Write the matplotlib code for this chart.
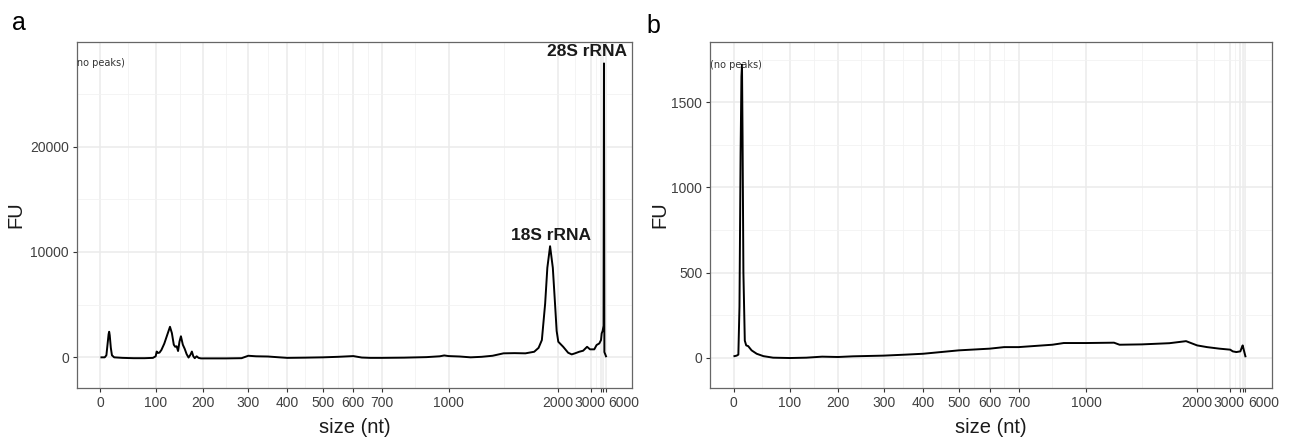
import numpy as np
import matplotlib
matplotlib.use("Agg")
import matplotlib.pyplot as plt
import matplotlib.transforms as mtransforms

plt.rcParams["font.family"] = ["Liberation Sans", "DejaVu Sans"]

# ---------------- data ----------------
tick_sizes = [0, 100, 200, 300, 400, 500, 600, 700, 1000, 2000, 3000, 4000, 5000, 6000]
tick_labels = ["0", "100", "200", "300", "400", "500", "600", "700", "1000", "2000", "3000", "", "", "6000"]
# ladder calibration: relative run position of each size marker
ladder_pos = [100.3, 155.7, 203.3, 248.3, 287.3, 322.7, 353.3, 381.7, 448.7, 558.3, 591.0, 601.0, 603.3, 606.0]

a_size = [2, 8, 11, 13, 15, 16, 17, 19, 21, 25, 40, 60, 80, 95, 100, 102, 105, 108, 112, 118, 124, 130,
          134, 138, 141, 144, 147, 150, 153, 157, 161, 165, 169, 173, 176, 179, 182, 186, 190, 195,
          210, 250, 285, 300, 320, 350, 380, 400, 450, 500, 550, 600, 630, 660, 700, 800, 900, 960,
          980, 1000, 1100, 1200, 1300, 1400, 1500, 1600, 1700, 1780, 1820, 1850, 1880, 1900, 1925,
          1950, 1970, 1985, 2000, 2150, 2300, 2410, 2510, 2640, 2760, 2880, 2970, 3330, 3560, 3830,
          4000, 4300, 4700, 5100, 5250, 5400, 6000]
a_fu = [0, 0, 200, 1200, 2200, 2430, 2100, 900, 200, 0, -50, -80, -80, -50, 100, 550, 420, 450, 700,
        1300, 2100, 2900, 2300, 1200, 1000, 1050, 600, 1500, 2000, 1200, 800, 300, -20, 250, 550, 100,
        -80, 100, -50, -100, -100, -100, -80, 150, 100, 80, 0, -50, -30, 0, 50, 120, -20, -50, -50,
        -30, 20, 100, 180, 120, 80, 0, 50, 150, 380, 400, 380, 530, 900, 1640, 5100, 8500, 10550,
        8500, 5100, 2500, 1480, 1000, 440, 280, 380, 530, 630, 1000, 760, 760, 1170, 1320, 1640,
        2270, 2500, 3000, 27900, 500, 100]

b_size = [1, 5, 8, 10, 12, 13.5, 14.5, 15.5, 17, 19.5, 22, 25.5, 31.6, 40.7, 52.7, 70, 100, 134,
          167, 200, 233, 300, 357, 400, 450, 500, 600, 650, 700, 850, 900, 1000, 1250, 1300, 1500,
          1750, 1900, 2000, 2300, 2670, 3000, 3250, 3600, 4000, 4500, 5000, 6000]
b_fu = [9, 12, 18, 300, 1200, 1650, 1720, 1300, 500, 100, 72, 68, 43, 23, 9, 0, -2, 0, 6, 4, 8,
        12, 18, 23, 33, 43, 53, 62, 62, 76, 86, 86, 88, 76, 78, 85, 97, 72, 62, 53, 47, 37, 33, 37,
        55, 72, 8]

# ---------------- scale ----------------
SK = np.array(tick_sizes, float)
PK = np.array(ladder_pos, float)


def _lin(x, xk, yk):
    x = np.asarray(x, float)
    y = np.interp(x, xk, yk)
    sl = (yk[1] - yk[0]) / (xk[1] - xk[0])
    sr = (yk[-1] - yk[-2]) / (xk[-1] - xk[-2])
    y = np.where(x < xk[0], yk[0] + (x - xk[0]) * sl, y)
    y = np.where(x > xk[-1], yk[-1] + (x - xk[-1]) * sr, y)
    return y


def fwd(s):
    return _lin(s, SK, PK)


def inv(p):
    return _lin(p, PK, SK)


minor_sizes = inv((PK[:-1] + PK[1:]) / 2.0)

W, H = 1290, 441
fig = plt.figure(figsize=(W / 100, H / 100), dpi=100)
fig.patch.set_facecolor("white")

GRID = "#EBEBEB"
TXT = "#333333"


def setup(ax, sizes, fu, ylim, yticks, yminor, fu_x):
    ax.set_xscale("function", functions=(fwd, inv))
    ax.plot(sizes, fu, color="black", lw=1.4, solid_joinstyle="round", zorder=3)
    ax.set_xlim(float(inv(76.7)), float(inv(632.0)))
    ax.set_ylim(*ylim)
    ax.set_xticks(tick_sizes)
    ax.set_xticklabels(tick_labels)
    ax.set_xticks(minor_sizes, minor=True)
    ax.set_yticks(yticks)
    ax.set_yticklabels([str(v) for v in yticks])
    ax.set_yticks(yminor, minor=True)
    ax.grid(True, which="major", color=GRID, lw=1.1, zorder=0)
    ax.grid(True, which="minor", color="#F2F2F2", lw=0.6, zorder=0)
    ax.set_axisbelow(True)
    ax.tick_params(which="major", length=3, width=0.8, color=TXT, labelsize=10,
                   labelcolor="#404040", pad=2.5)
    ax.tick_params(which="minor", length=0)
    for sp in ax.spines.values():
        sp.set_color("#666666")
        sp.set_linewidth(0.9)
    ax.set_xlabel("size (nt)", fontsize=14.5, color="#1a1a1a", labelpad=6)
    ax.set_ylabel("FU", fontsize=14.5, color="#1a1a1a")
    ax.yaxis.set_label_coords(fu_x, 0.5)
    # shift the end labels a little apart, as in the source figure
    labs = ax.get_xticklabels()
    labs[-1].set_transform(labs[-1].get_transform() + mtransforms.ScaledTranslation(0.18, 0, fig.dpi_scale_trans))
    labs[-4].set_transform(labs[-4].get_transform() + mtransforms.ScaledTranslation(-0.01, 0, fig.dpi_scale_trans))


axa = fig.add_axes([76.7 / W, 1 - 388 / H, (632 - 76.7) / W, (388 - 41.5) / H])
setup(axa, a_size, a_fu, (-2910, 29980), [0, 10000, 20000], [5000, 15000, 25000], -0.093)
axb = fig.add_axes([710 / W, 1 - 388 / H, (1271.7 - 710) / W, (388 - 41.5) / H])
setup(axb, b_size, b_fu, (-178, 1856), [0, 500, 1000, 1500], [250, 750, 1250, 1750], -0.073)

# annotations
axa.text(-0.006, max(a_fu), "(no peaks)", transform=mtransforms.blended_transform_factory(axa.transAxes, axa.transData),
         fontsize=7, color=TXT, ha="left", va="center", family="DejaVu Sans", clip_on=True, zorder=4)
axb.text(0.0, max(b_fu), "(no peaks)", transform=mtransforms.blended_transform_factory(axb.transAxes, axb.transData),
         fontsize=7, color=TXT, ha="left", va="center", family="DejaVu Sans", clip_on=True, zorder=4)

axa.annotate("18S rRNA", xy=(1925, 10550), xytext=(1, 3), textcoords="offset pixels",
             ha="center", va="bottom", fontsize=12.5, fontweight="bold", color="#1a1a1a")
axa.annotate("28S rRNA", xy=(5250, 27900), xytext=(-17, 4), textcoords="offset pixels",
             ha="center", va="bottom", fontsize=12.5, fontweight="bold", color="#1a1a1a",
             annotation_clip=False)

fig.text(12 / W, 1 - 30 / H, "a", fontsize=18, ha="left", va="baseline")
fig.text(646 / W, 1 - 33 / H, "b", fontsize=18, ha="left", va="baseline")

fig.savefig("out.png", dpi=100)
